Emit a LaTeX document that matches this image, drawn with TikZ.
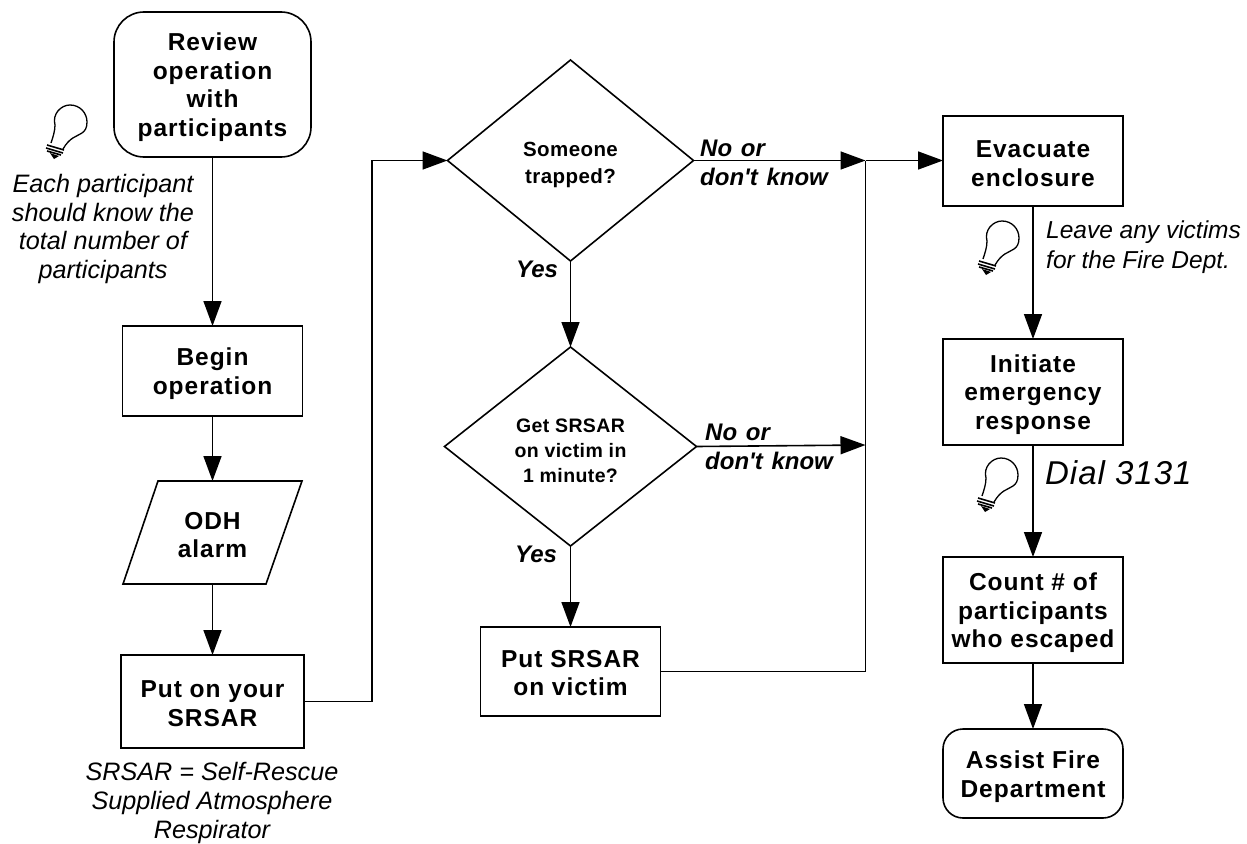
\documentclass[tikz,border=0pt]{standalone}
\usepackage{fontspec}
\setmainfont{Liberation Sans}
\newfontfamily\branchfont{Liberation Sans}[WordSpace=1.3]
\usetikzlibrary{arrows.meta,shapes.geometric}
\newcommand\topgap[1]{\rule{0pt}{#1pt}}
\tikzset{
 conn/.style={line width=1.6pt,-{Triangle[length=25pt,width=18pt]}},
 plain/.style={line width=1.6pt},
 boxlabel/.style={align=center,font=\fontsize{24.5}{28.7}\selectfont\bfseries\addfontfeatures{LetterSpace=4},inner sep=0pt,outer sep=0pt},
 stepbox/.style={boxlabel,draw,line width=1.6pt,rectangle},
 roundbox/.style={stepbox,rounded corners=#1},
 decide/.style={diamond,draw,line width=1.6pt,inner sep=0pt,outer sep=0pt,align=center,aspect=1.25},
 note/.style={align=center,font=\fontsize{25.2}{28.6}\selectfont\itshape,inner sep=0pt},
 branch/.style={align=left,font=\branchfont\fontsize{24}{29}\selectfont\bfseries\itshape,inner sep=0pt,anchor=west},
 bulb/.pic={
  \draw[line width=1.3pt,line join=round] (-19,21) .. controls (-17,15) and (-15,9) .. (-15,3)
    .. controls (-18,-8) and (-9,-17) .. (0,-17)
    .. controls (10,-17) and (17,-9) .. (17,0)
    .. controls (17,6) and (15,9) .. (12,11)
    .. controls (6,15) and (0,15) .. (-7,27);
  \draw[line width=1.6pt] (-23,23)--(-6,28) (-24,26)--(-7,31) (-23,29)--(-9,33);
  \fill (-20,31)--(-11,34)--(-16,37)--cycle;
 }
}
\begin{document}
\begin{tikzpicture}[x=1pt,y=-1pt]
\useasboundingbox (0,0) rectangle (1247,843);
\node[roundbox=30pt,minimum width=197pt,minimum height=145pt] (review) at (212.5,84.5) {\topgap{23}Review\\operation\\with\\participants};
\node[stepbox,minimum width=180pt,minimum height=90pt] (begin) at (212.5,371) {\topgap{23}Begin\\operation};
\node[boxlabel,minimum width=144pt,minimum height=103pt] (odh) at (212.5,532.5) {\topgap{22}ODH\\alarm};
\draw[line width=1.6pt,line join=miter] (158,481)--(302,481)--(266,584)--(123,584)--cycle;
\node[stepbox,minimum width=183pt,minimum height=93pt] (puton) at (212.5,701.5) {\topgap{21}Put on your\\SRSAR};
\node[decide,minimum width=246pt,minimum height=201pt,font=\fontsize{20.5}{27}\selectfont\bfseries\addfontfeatures{LetterSpace=2}] (trapped) at (570.5,160.5) {\topgap{23.5}Someone\\trapped?};
\node[decide,minimum width=252pt,minimum height=199pt,font=\fontsize{19.5}{25}\selectfont\bfseries\addfontfeatures{LetterSpace=2}] (minute) at (570.5,446.5) {\topgap{21.3}Get SRSAR\\on victim in\\1 minute?};
\node[stepbox,minimum width=180pt,minimum height=89pt] (putvictim) at (570.5,671.5) {\topgap{20}Put SRSAR\\on victim};
\node[stepbox,minimum width=180pt,minimum height=90pt] (evacuate) at (1033,161) {\topgap{22}Evacuate\\enclosure};
\node[stepbox,minimum width=180pt,minimum height=106pt] (initiate) at (1033,392) {\topgap{23}Initiate\\emergency\\response};
\node[stepbox,minimum width=180pt,minimum height=106pt] (count) at (1033,610) {\topgap{23.5}Count \# of\\participants\\who escaped};
\node[roundbox=20pt,minimum width=180pt,minimum height=89pt] (assist) at (1033,773.5) {\topgap{24}Assist Fire\\Department};
\coordinate (j1) at (865.5,160.5);
\coordinate (j2) at (865.5,445);
\coordinate (j3) at (865.5,671.5);
\coordinate (r1) at (372,701.5);
\coordinate (r2) at (372,160.5);
\draw[conn] (review)--(begin);
\draw[conn] (begin)--(odh);
\draw[conn] (odh)--(puton);
\draw[conn] (puton.east)--(r1)--(r2)--(trapped.west);
\draw[conn] (trapped.south)--(minute.north);
\draw[conn] (minute.south)--(putvictim.north);
\draw[conn] (trapped.east)--(j1);
\draw[conn] (j1)--(j1-|evacuate.west);
\draw[conn] (minute.east)--(j2);
\draw[plain] (putvictim.east)--(j3)--(j1);
\draw[conn] (evacuate)--(initiate);
\draw[conn] (initiate)--(count);
\draw[conn] (count)--(assist);
\pic at (70,122) {bulb};
\pic at (1002,238) {bulb};
\pic at (1001,475) {bulb};
\node[note] (n1) at (103,229) {Each participant\\should know the\\total number of\\participants};
\node[note,align=left,anchor=west,font=\fontsize{24.5}{29.5}\selectfont\itshape] (n2) at (1046,247) {Leave any victims\\for the Fire Dept.};
\node[note,anchor=west,font=\fontsize{33}{36}\selectfont\itshape\addfontfeatures{LetterSpace=3}] (n3) at (1045,473) {Dial 3131};
\node[note] (n4) at (212,803) {SRSAR = Self-Rescue\\Supplied Atmosphere\\Respirator};
\node[branch] (b1) at (700,163) {No or\\don\textquotesingle t know};
\node[branch] (b2) at (705,447) {No or\\don\textquotesingle t know};
\node[branch] (y1) at (516,269) {Yes};
\node[branch] (y2) at (515,554) {Yes};
\end{tikzpicture}
\end{document}
